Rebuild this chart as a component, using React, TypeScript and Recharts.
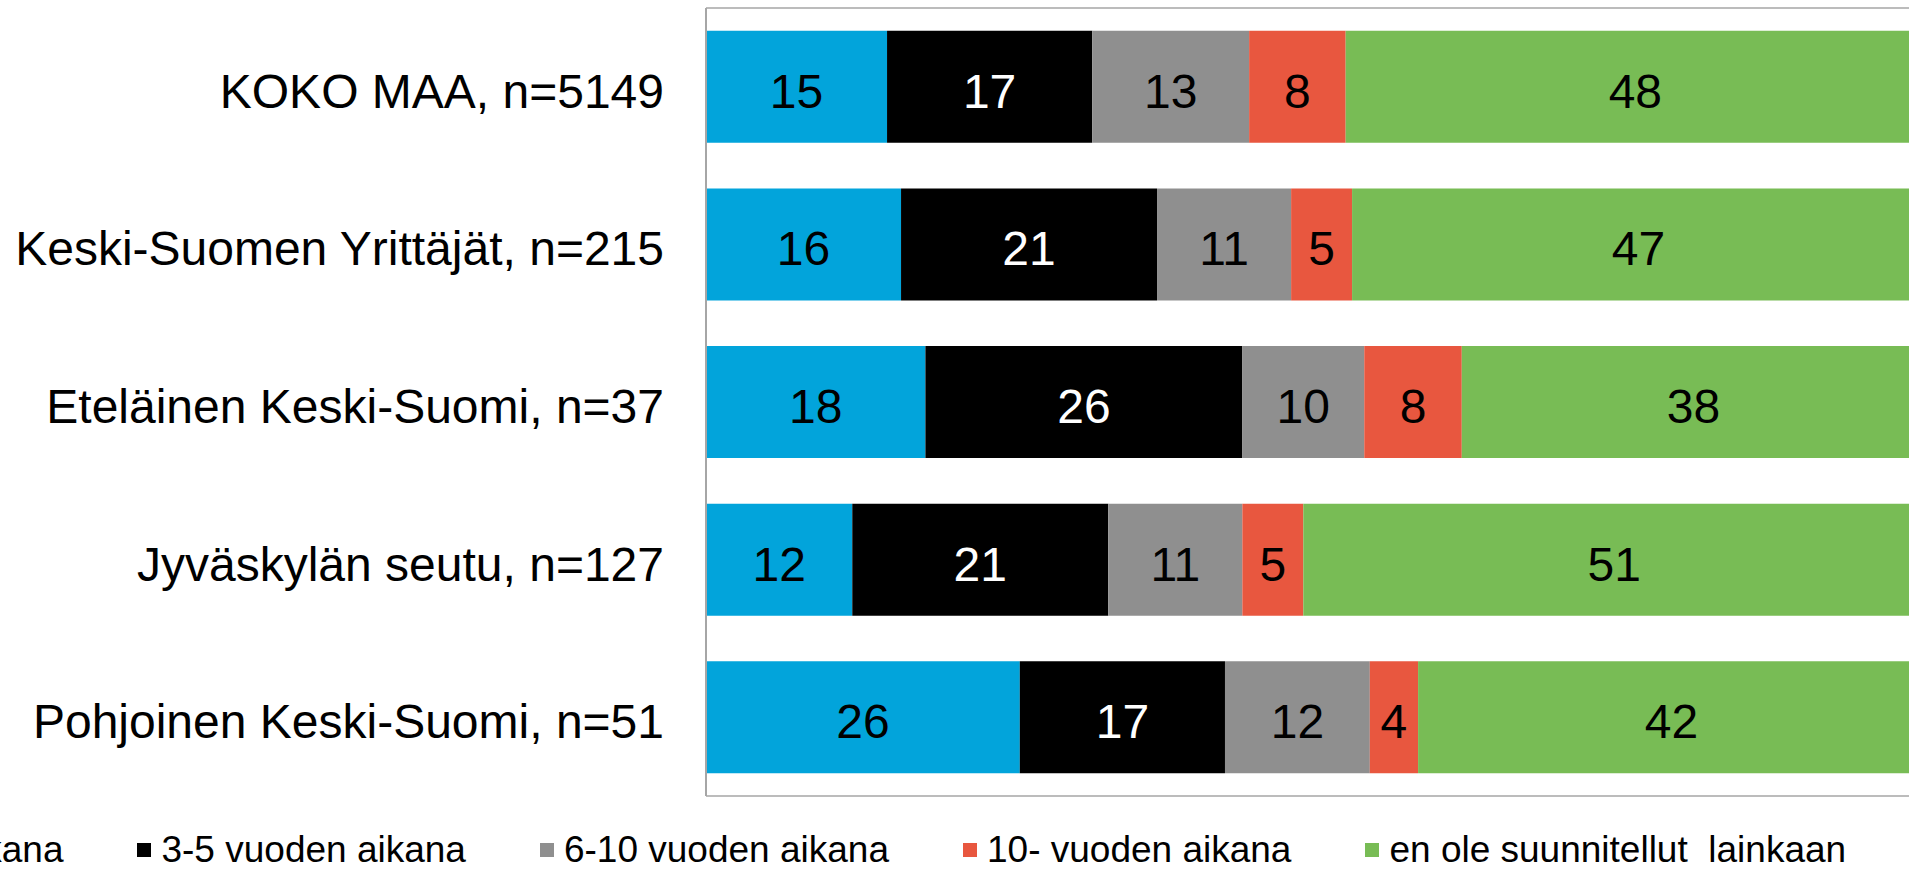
import { BarChart, Bar, XAxis, YAxis, CartesianGrid, Legend, LabelList } from 'recharts';

const categories = [
  'KOKO MAA, n=5149',
  'Keski-Suomen Yrittäjät, n=215',
  'Eteläinen Keski-Suomi, n=37',
  'Jyväskylän seutu, n=127',
  'Pohjoinen Keski-Suomi, n=51',
];

const series = [
  { key: 's1', name: '1-2 vuoden aikana', color: '#02A4DB', label: '#000000' },
  { key: 's2', name: '3-5 vuoden aikana', color: '#000000', label: '#FFFFFF' },
  { key: 's3', name: '6-10 vuoden aikana', color: '#8F8F8F', label: '#000000' },
  { key: 's4', name: '10- vuoden aikana', color: '#E8573F', label: '#000000' },
  { key: 's5', name: 'en ole suunnitellut  lainkaan', color: '#78BC55', label: '#000000' },
];

const s1 = [15, 16, 18, 12, 26];
const s2 = [17, 21, 26, 21, 17];
const s3 = [13, 11, 10, 11, 12];
const s4 = [8, 5, 8, 5, 4];
const s5 = [48, 47, 38, 51, 42];

const xTicks = [0, 0.1, 0.2, 0.3, 0.4, 0.5, 0.6, 0.7, 0.8, 0.9, 1];

const data = categories.map((name, i) => ({
  name,
  s1: s1[i],
  s2: s2[i],
  s3: s3[i],
  s4: s4[i],
  s5: s5[i],
}));

const LegendBox = () => (
  <div style={{ display: 'flex', alignItems: 'center', height: 44, whiteSpace: 'pre', fontSize: 37, color: '#000' }}>
    {series.map((s) => (
      <div key={s.key} style={{ display: 'flex', alignItems: 'center', marginRight: 74 }}>
        <span style={{ display: 'inline-block', width: 14, height: 14, background: s.color, marginRight: 10 }} />
        <span>{s.name}</span>
      </div>
    ))}
  </div>
);

export default function App() {
  return (
    <div
      style={{
        position: 'absolute',
        left: 0,
        top: 0,
        width: 1909,
        height: 869,
        overflow: 'hidden',
        background: '#fff',
        fontFamily: '"Liberation Sans", Arial, sans-serif',
      }}
    >
      <BarChart
        width={1940}
        height={869}
        data={data}
        layout="vertical"
        stackOffset="expand"
        barCategoryGap="14.5%"
        margin={{ top: 8, right: 15, left: 0, bottom: 29 }}
      >
        <CartesianGrid
          stroke="#A6A6A6"
          strokeWidth={1.5}
          horizontalCoordinatesGenerator={({ offset }: any) => [offset.top, offset.top + offset.height]}
        />
        <XAxis
          type="number"
          domain={[0, 1]}
          ticks={xTicks}
          tick={false}
          tickLine={false}
          height={0}
          axisLine={{ stroke: '#A6A6A6', strokeWidth: 2 }}
        />
        <YAxis
          type="category"
          dataKey="name"
          width={706}
          tickLine={false}
          tickSize={0}
          tickMargin={42}
          axisLine={{ stroke: '#A6A6A6', strokeWidth: 2 }}
          tick={{ fill: '#000', fontSize: 48, dy: 4 }}
        />
        <Legend
          verticalAlign="bottom"
          content={() => <LegendBox />}
          wrapperStyle={{ bottom: -3, left: -265, width: 2400 }}
        />
        {series.map((s) => (
          <Bar key={s.key} dataKey={s.key} name={s.name} stackId="a" fill={s.color} isAnimationActive={false}>
            <LabelList dataKey={s.key} position="center" fill={s.label} fontSize={48} dy={4} />
          </Bar>
        ))}
      </BarChart>
    </div>
  );
}
